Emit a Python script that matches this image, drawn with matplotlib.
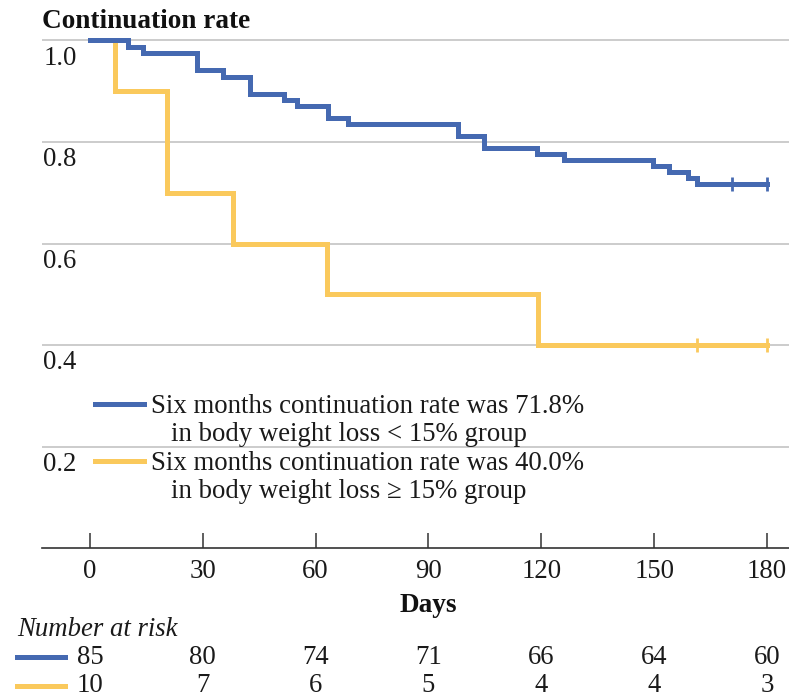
import numpy as np
import matplotlib.pyplot as plt
from matplotlib.lines import Line2D
import matplotlib.transforms as mtransforms

plt.rcParams['font.family'] = ['Liberation Serif', 'DejaVu Serif']

# Kaplan-Meier steps, body weight loss < 15% (n=85)
blue_t = [0, 10.0, 14.2, 28.4, 35.3, 42.5, 51.6, 55.1, 63.4, 68.7, 97.9,
          104.8, 118.9, 126.0, 149.6, 154.0, 159.0, 161.3, 180]
blue_s = [1.0, 0.988, 0.976, 0.941, 0.929, 0.894, 0.882, 0.871, 0.847, 0.835,
          0.812, 0.788, 0.776, 0.765, 0.753, 0.741, 0.729, 0.718, 0.718]
blue_cens_t = [170.6, 180]

# body weight loss >= 15% (n=10)
yel_t = [0, 6.6, 20.6, 38.1, 62.9, 119.1, 180]
yel_s = [1.0, 0.9, 0.7, 0.6, 0.5, 0.4, 0.4]
yel_cens_t = [161.4, 180]

days = [0, 30, 60, 90, 120, 150, 180]
risk_blue = [85, 80, 74, 71, 66, 64, 60]
risk_yel = [10, 7, 6, 5, 4, 4, 3]
yticks = [0.2, 0.4, 0.6, 0.8, 1.0]

blue = '#4569b1'
yellow = '#fac95c'
fs = 19.3

fig = plt.figure(figsize=(7.89, 7.0), dpi=100)
ax = fig.add_axes([42/789, 1 - 548.3/700, 747/789, 512.9/700])

ax.step(yel_t, yel_s, where='post', color=yellow, lw=3.6, zorder=3,
        solid_joinstyle='miter')
ax.step(blue_t, blue_s, where='post', color=blue, lw=3.6, zorder=4,
        solid_joinstyle='miter')
ax.plot(yel_cens_t, [yel_s[-1]] * len(yel_cens_t), ls='none', marker='|',
        ms=10, mew=2, color=yellow, zorder=3)
ax.plot(blue_cens_t, [blue_s[-1]] * len(blue_cens_t), ls='none', marker='|',
        ms=10, mew=2, color=blue, zorder=4)

ax.set_xlim(-12.76, 185.85)
ax.set_ylim(0, 1.01)
for s in ['top', 'right', 'left']:
    ax.spines[s].set_visible(False)
ax.spines['bottom'].set_color('#333333')
ax.spines['bottom'].set_linewidth(1.2)

ax.set_yticks(yticks)
ax.set_yticklabels([])
ax.tick_params(axis='y', length=0)
ax.grid(axis='y', color='#c4c4c4', lw=1.2)
ax.set_axisbelow(True)

ax.set_xticks(days)
ax.set_xticklabels([str(d) for d in days], fontsize=fs, color='#1a1a1a')
ax.tick_params(axis='x', direction='in', length=11, width=1.1,
               color='#333333', pad=8)

# y labels sit just under each gridline at the left edge
ytr = mtransforms.blended_transform_factory(ax.transAxes, ax.transData)
for v in yticks:
    ax.text(0.002, v - 0.035, f'{v:.1f}', transform=ytr, ha='left',
            va='center', fontsize=fs, color='#1a1a1a')

fig.text(42/789, 1 - 21.5/700, 'Continuation rate', fontsize=19.6,
         fontweight='bold', ha='left', va='center', color='#111111')

# legend drawn by hand so the sample line sits on the first text line
legend_rows = [
    (blue, 0.2813, ['Six months continuation rate was 71.8%',
                    'in body weight loss < 15% group']),
    (yellow, 0.1702, ['Six months continuation rate was 40.0%',
                      'in body weight loss \u2265 15% group']),
]
for col, yy, lines in legend_rows:
    ax.add_line(Line2D([0.0710, 0.1365], [yy, yy], transform=ax.transAxes,
                       color=col, lw=3.6))
    ax.text(0.1459, yy - 0.004, lines[0], transform=ax.transAxes,
            ha='left', va='center', fontsize=fs, color='#1a1a1a')
    ax.text(0.1723, yy - 0.060, lines[1], transform=ax.transAxes,
            ha='left', va='center', fontsize=fs, color='#1a1a1a')

# x label and number-at-risk table
xtr = mtransforms.blended_transform_factory(ax.transData, fig.transFigure)
ax.text(90, 1 - 606/700, 'Days', transform=xtr, ha='center', va='center',
        fontsize=19.6, fontweight='bold', color='#111111')
fig.text(17/789, 1 - 630/700, 'Number at risk', fontsize=fs, style='italic',
         ha='left', va='center', color='#1a1a1a')
for col, counts, py in [(blue, risk_blue, 657), (yellow, risk_yel, 686)]:
    fig.add_artist(Line2D([17/789, 65/789], [1 - py/700, 1 - py/700],
                          transform=fig.transFigure, color=col, lw=3.6))
    for d, n in zip(days, counts):
        ax.text(d, 1 - py/700, str(n), transform=xtr, ha='center',
                va='center', fontsize=fs, color='#1a1a1a')

fig.savefig('out.png', dpi=100)
